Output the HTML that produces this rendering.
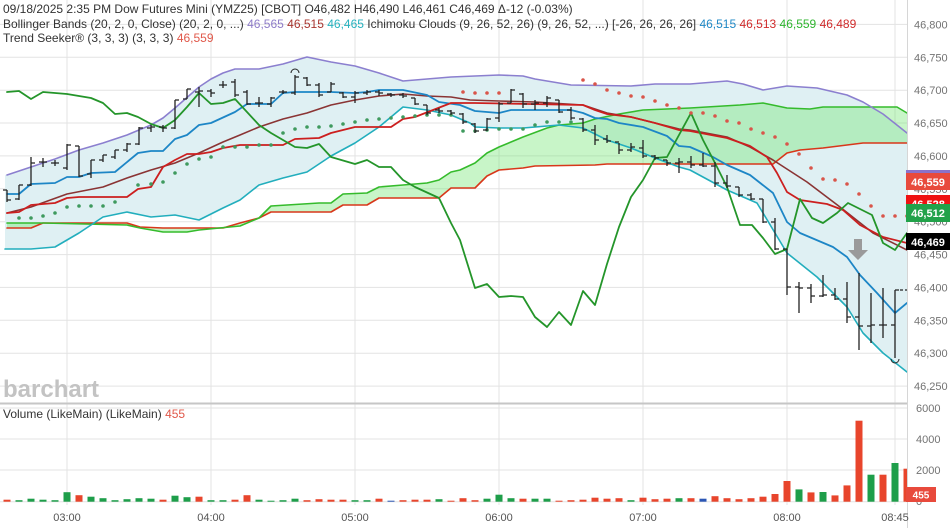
<!DOCTYPE html>
<html><head><meta charset="utf-8"><style>
html,body{margin:0;padding:0;background:#fff;}
body{width:950px;height:528px;overflow:hidden;position:relative;font-family:"Liberation Sans",sans-serif;}
svg{position:absolute;left:0;top:0;}
.t{font-family:"Liberation Sans",sans-serif;white-space:pre;}
</style></head><body>
<svg width="950" height="528" viewBox="0 0 950 528" xmlns="http://www.w3.org/2000/svg">
<defs><clipPath id="pc"><rect x="0" y="0" width="907" height="403"/></clipPath>
<clipPath id="vc"><rect x="0" y="404" width="907" height="100"/></clipPath></defs>
<!-- grid -->
<g stroke="#e3e3e3" stroke-width="1">
<path d="M0 24.4H907M0 57.3H907M0 90.2H907M0 123H907M0 155.9H907M0 188.8H907M0 221.7H907M0 254.6H907M0 287.4H907M0 320.3H907M0 353.2H907M0 386.1H907"/>
<path d="M0 408H907M0 439H907M0 470H907M0 501.7H907"/>
<path d="M67 0V505M211 0V505M355 0V505M499 0V505M643 0V505M787 0V505M895 0V505"/>
</g>
<g clip-path="url(#pc)">
<!-- BB fill -->
<polygon fill="#dff0f3" points="5,175 31,167 55,159 79,150 103,143 127,135 151,125 163,118 175,108 199,87 211,79 223,73 235,69 259,69 283,64 307,57 331,62 355,66 379,73 403,81 427,79 451,77 475,76 499,75 523,76 535,79 571,85 631,86 655,84 690,84 727,81 743,84 763,90 787,86 817,88 847,95 863,102 883,114 907,133 907,372 883,353 863,333 847,307 817,277 787,253 757,203 727,190 690,170 679,167 655,158 631,148 607,140 583,128 559,125 523,128 499,128 475,127 470,123 451,115 427,110 403,107 379,127 355,143 331,156 307,172 283,178 259,185 240,200 223,208 199,220 175,215 151,217 127,212 103,217 79,233 55,247 31,249 5,249"/>
<!-- cloud fill -->
<polygon fill="rgba(110,230,110,0.38)" points="7,223 31,223 43,223 127,225 140,228 163,232 187,232 199,230 240,226 259,218 271,206 319,203 331,203 343,194 367,193 379,187 403,185 427,183 439,180 451,172 460,170 475,163 487,153 499,147 523,137 547,128 559,125 583,123 595,119 619,114 643,110 667,109 690,108 740,105 763,103 787,108 810,109 823,107 897,107 907,113 907,143 863,143 847,145 823,148 800,150 787,153 773,164 607,164 595,165 535,166 523,168 499,170 487,176 475,188 460,188 451,188 439,198 379,198 367,205 343,205 331,212 271,212 259,218 240,223 223,228 163,228 140,227 127,223 43,223 31,228 7,228"/>
<g fill="none" stroke-linejoin="round" stroke-linecap="round">
<!-- span B -->
<polyline stroke="#d8371a" stroke-width="1.6" points="7,228 31,228 43,223 127,223 140,227 163,228 223,228 240,223 259,218 271,212 331,212 343,205 367,205 379,198 439,198 451,188 460,188 475,188 487,176 499,170 523,168 535,166 595,165 607,164 773,164 787,153 800,150 823,148 847,145 863,143 907,143"/>
<!-- span A -->
<polyline stroke="#35bb2c" stroke-width="1.6" points="7,223 31,223 43,223 127,225 140,228 163,232 187,232 199,230 240,226 259,218 271,206 319,203 331,203 343,194 367,193 379,187 403,185 427,183 439,180 451,172 460,170 475,163 487,153 499,147 523,137 547,128 559,125 583,123 595,119 619,114 643,110 667,109 690,108 740,105 763,103 787,108 810,109 823,107 897,107 907,113"/>
<!-- BB upper -->
<polyline stroke="#8b7fcf" stroke-width="1.6" points="7,175 31,167 55,159 79,150 103,143 127,135 151,125 163,118 175,108 199,87 211,79 223,73 235,69 259,69 283,64 307,57 331,62 355,66 379,73 403,81 427,79 451,77 475,76 499,75 523,76 535,79 571,85 631,86 655,84 690,84 727,81 743,84 763,90 787,86 817,88 847,95 863,102 883,114 907,133"/>
<!-- BB lower -->
<polyline stroke="#22aebd" stroke-width="1.6" points="5,249 31,249 55,247 79,233 103,217 127,212 151,217 175,215 199,220 223,208 240,200 259,185 283,178 307,172 331,156 355,143 379,127 403,107 427,110 451,115 470,123 475,127 499,128 523,128 559,125 583,128 607,140 631,148 655,158 679,167 690,170 727,190 757,203 787,253 817,277 847,307 863,333 883,353 907,372"/>
<!-- BB middle -->
<polyline stroke="#8a3434" stroke-width="1.6" points="7,213 31,207 67,194 103,187 127,178 151,170 175,163 199,153 223,142 240,135 259,127 283,119 307,113 331,105 355,100 379,96 403,94 427,96 451,97 470,100 499,101 535,102 583,105 607,113 631,117 655,123 679,129 690,130 727,137 750,147 773,160 807,182 840,207 873,233 907,250"/>
<!-- conversion -->
<polyline stroke="#1d86c6" stroke-width="1.8" points="7,194 19,194 31,184 55,183 67,177 79,177 91,173 115,172 138,153 151,151 163,151 175,139 187,135 199,125 211,123 235,112 247,104 271,104 283,93 295,92 331,92 355,93 367,92 379,90 403,90 427,95 439,102 460,105 475,111 499,113 511,110 571,110 583,113 595,118 607,119 619,123 643,127 667,136 679,146 690,147 713,157 727,165 750,175 773,193 787,222 800,233 833,247 847,257 860,275 877,293 895,313 907,303"/>
<!-- base -->
<polyline stroke="#cc1f1f" stroke-width="1.8" points="7,213 19,212 31,205 55,203 67,198 79,197 127,197 138,189 151,187 163,167 175,160 187,154 199,154 211,152 223,148 240,145 283,145 295,139 319,138 331,133 355,127 391,127 403,119 415,117 451,103 475,103 583,105 595,110 607,114 631,117 655,123 679,130 690,131 727,138 750,146 767,157 777,173 787,192 800,200 827,204 843,210 860,225 883,237 907,243"/>
<!-- lagging -->
<polyline stroke="#24952a" stroke-width="1.8" points="7,92 19,91 31,99 43,92 55,93 67,94 91,98 103,103 115,114 127,113 138,117 151,124 163,128 175,120 187,107 199,93 211,104 223,103 235,99 259,125 271,133 295,147 307,148 319,144 331,157 355,164 367,160 379,167 391,167 403,180 415,187 439,198 451,223 460,240 475,288 487,284 499,297 511,296 523,297 535,317 547,327 559,312 571,325 583,291 595,305 607,264 619,227 631,197 643,180 655,158 667,157 679,135 691,113 703,140 715,163 727,187 740,225 752,225 763,238 775,254 787,249 800,199 812,218 823,223 837,213 848,203 872,215 883,243 895,250 907,233"/>
</g>
<!-- trend seeker dots -->
<g fill="#3f9a5e">
<circle cx="19" cy="218" r="1.8"/><circle cx="31" cy="218" r="1.8"/><circle cx="43" cy="216" r="1.8"/><circle cx="55" cy="213" r="1.8"/><circle cx="67" cy="207" r="1.8"/><circle cx="79" cy="206" r="1.8"/><circle cx="91" cy="206" r="1.8"/><circle cx="103" cy="206" r="1.8"/><circle cx="115" cy="202" r="1.8"/><circle cx="138" cy="185" r="1.8"/><circle cx="151" cy="184" r="1.8"/><circle cx="163" cy="182" r="1.8"/><circle cx="175" cy="173" r="1.8"/><circle cx="187" cy="164" r="1.8"/><circle cx="199" cy="159" r="1.8"/><circle cx="211" cy="157" r="1.8"/><circle cx="223" cy="147" r="1.8"/><circle cx="235" cy="147" r="1.8"/><circle cx="247" cy="147" r="1.8"/><circle cx="259" cy="145" r="1.8"/><circle cx="271" cy="145" r="1.8"/><circle cx="283" cy="133" r="1.8"/><circle cx="295" cy="129" r="1.8"/><circle cx="307" cy="127" r="1.8"/><circle cx="319" cy="127" r="1.8"/><circle cx="331" cy="126" r="1.8"/><circle cx="343" cy="124" r="1.8"/><circle cx="355" cy="122" r="1.8"/><circle cx="367" cy="120" r="1.8"/><circle cx="379" cy="119" r="1.8"/><circle cx="391" cy="118" r="1.8"/><circle cx="403" cy="117" r="1.8"/><circle cx="415" cy="116" r="1.8"/><circle cx="427" cy="115" r="1.8"/><circle cx="439" cy="115" r="1.8"/><circle cx="451" cy="115" r="1.8"/><circle cx="463" cy="131" r="1.8"/><circle cx="475" cy="131" r="1.8"/><circle cx="487" cy="130" r="1.8"/><circle cx="499" cy="129" r="1.8"/><circle cx="511" cy="129" r="1.8"/><circle cx="523" cy="129" r="1.8"/><circle cx="535" cy="125" r="1.8"/><circle cx="547" cy="122" r="1.8"/><circle cx="559" cy="122" r="1.8"/><circle cx="571" cy="122" r="1.8"/>
</g>
<g fill="#d9554a">
<circle cx="463" cy="92" r="1.8"/><circle cx="475" cy="93" r="1.8"/><circle cx="487" cy="93" r="1.8"/><circle cx="499" cy="93" r="1.8"/><circle cx="583" cy="80" r="1.8"/><circle cx="595" cy="84" r="1.8"/><circle cx="607" cy="90" r="1.8"/><circle cx="619" cy="93" r="1.8"/><circle cx="631" cy="96" r="1.8"/><circle cx="643" cy="97" r="1.8"/><circle cx="655" cy="101" r="1.8"/><circle cx="667" cy="105" r="1.8"/><circle cx="679" cy="108" r="1.8"/><circle cx="691" cy="113" r="1.8"/><circle cx="703" cy="113" r="1.8"/><circle cx="715" cy="116" r="1.8"/><circle cx="727" cy="121" r="1.8"/><circle cx="739" cy="123" r="1.8"/><circle cx="751" cy="129" r="1.8"/><circle cx="763" cy="133" r="1.8"/><circle cx="775" cy="137" r="1.8"/><circle cx="787" cy="144" r="1.8"/><circle cx="799" cy="154" r="1.8"/><circle cx="811" cy="168" r="1.8"/><circle cx="823" cy="179" r="1.8"/><circle cx="835" cy="180" r="1.8"/><circle cx="847" cy="184" r="1.8"/><circle cx="859" cy="194" r="1.8"/><circle cx="871" cy="206" r="1.8"/><circle cx="883" cy="216" r="1.8"/><circle cx="895" cy="216" r="1.8"/><circle cx="907" cy="216" r="1.8"/>
</g>
<!-- OHLC bars -->
<path fill="none" stroke="#222" stroke-width="1.3" d="M7 190V202M3 190H7M7 200H11M19 185V200M15 199H19M19 185H23M31 157V186M27 185H31M31 163H35M43 158V167M39 162H43M43 162H47M55 160V166M51 163H55M55 163H59M67 144V170M63 168H67M67 145H71M79 146V177M75 146H79M79 176H83M91 160V178M87 174H91M91 160H95M103 155V162M99 160H103M103 155H107M115 150V159M111 157H115M115 150H119M127 143V152M123 150H127M127 144H131M139 127V145M135 144H139M139 128H143M151 125V132M147 128H151M151 127H155M163 125V132M159 127H163M163 128H167M175 100V129M171 128H175M175 100H179M187 89V99M183 99H187M187 89H191M199 87V107M195 92H199M199 91H203M211 89V97M207 91H211M211 93H215M223 81V88M219 85H223M223 85H227M235 79V97M231 82H235M235 95H239M247 90V105M243 92H247M247 104H251M259 97V107M255 103H259M259 103H263M271 97V107M267 104H271M271 98H275M283 90V94M279 92H283M283 92H287M295 75V95M291 93H295M295 77H299M307 77V86M303 78H307M307 85H311M319 83V97M315 85H319M319 95H323M331 82V92M327 92H331M331 84H335M343 92V98M339 93H343M343 97H347M355 91V103M351 97H355M355 93H359M367 90V95M363 93H367M367 92H371M379 90V96M375 92H379M379 93H383M391 93V97M387 94H391M391 95H395M403 93V98M399 95H403M403 96H407M415 98V105M411 98H415M415 104H419M427 105V115M423 105H427M427 113H431M439 108V113M435 110H439M439 111H443M451 110V115M447 111H451M451 113H455M463 113V124M459 114H463M463 122H467M475 123V133M471 124H475M475 131H479M487 118V131M483 130H487M487 119H491M499 102V122M495 118H499M499 104H503M511 89V103M507 103H511M511 90H515M523 93V108M519 94H523M523 104H527M535 100V110M531 104H535M535 103H539M547 96V107M543 103H547M547 98H551M559 100V113M555 100H559M559 112H563M571 107V120M567 110H571M571 118H575M583 118V132M579 119H583M583 130H587M595 125V145M591 130H595M595 140H599M607 135V143M603 139H607M607 141H611M619 143V154M615 142H619M619 150H623M631 143V152M627 150H631M631 147H635M643 140V158M639 148H643M643 156H647M655 155V160M651 156H655M655 158H659M667 160V166M663 160H667M667 163H671M679 158V173M675 163H679M679 162H683M691 156V168M687 162H691M691 165H695M703 153V167M699 165H703M703 166H707M715 162V187M711 166H715M715 183H719M727 175V188M723 183H727M727 186H731M739 187V197M735 187H739M739 195H743M751 193V200M747 195H751M751 199H755M763 199V223M759 199H763M763 222H767M775 218V250M771 222H775M775 249H779M787 249V295M783 249H787M787 287H791M799 282V313M795 287H799M799 288H803M811 284V303M807 288H811M811 296H815M823 275V297M819 296H823M823 295H827M835 288V300M831 295H835M835 299H839M847 282V323M843 299H847M847 317H851M859 273V350M855 317H859M859 326H863M871 293V343M867 326H871M871 325H875M883 288V338M879 325H883M883 325H887M895 290V358M891 325H895M895 290H899"/>
<path fill="none" stroke="#222" stroke-width="1.2" stroke-dasharray="3,2" d="M900 290H907"/>
<path fill="none" stroke="#222" stroke-width="1" d="M291 73A4 4 0 0 1 299 73M891 359A4 4 0 0 0 899 359"/>
<!-- arrow -->
<path fill="#9a9a9a" d="M854 239H862V250H868L858 260L848 250H854Z"/>
<text class="t" x="3" y="397" font-size="24" font-weight="bold" fill="#c3c3c3">barchart</text>
</g>
<!-- separator & border -->
<rect x="0" y="402.5" width="907" height="2" fill="#c6c6c6"/>
<path d="M907.5 0V528" stroke="#d6d6d6" stroke-width="1"/>
<!-- volume -->
<g clip-path="url(#vc)">
<g fill="#e8452c">
<rect x="3.5" y="499.7" width="7" height="2"/><rect x="75.5" y="495.2" width="7" height="6.5"/><rect x="159.5" y="499.7" width="7" height="2"/><rect x="195.5" y="496.7" width="7" height="5"/><rect x="231.5" y="499.7" width="7" height="2"/><rect x="243.5" y="495.2" width="7" height="6.5"/><rect x="303.5" y="500.2" width="7" height="1.5"/><rect x="315.5" y="499.2" width="7" height="2.5"/><rect x="327.5" y="499.7" width="7" height="2"/><rect x="339.5" y="499.7" width="7" height="2"/><rect x="375.5" y="498.7" width="7" height="3"/><rect x="399.5" y="500.2" width="7" height="1.5"/><rect x="411.5" y="499.7" width="7" height="2"/><rect x="423.5" y="499.7" width="7" height="2"/><rect x="447.5" y="500.7" width="7" height="1"/><rect x="459.5" y="498.2" width="7" height="3.5"/><rect x="471.5" y="500.2" width="7" height="1.5"/><rect x="519.5" y="498.7" width="7" height="3"/><rect x="555.5" y="500.7" width="7" height="1"/><rect x="567.5" y="500.2" width="7" height="1.5"/><rect x="579.5" y="499.7" width="7" height="2"/><rect x="591.5" y="497.7" width="7" height="4"/><rect x="603.5" y="498.7" width="7" height="3"/><rect x="615.5" y="498.2" width="7" height="3.5"/><rect x="639.5" y="497.7" width="7" height="4"/><rect x="651.5" y="499.2" width="7" height="2.5"/><rect x="663.5" y="498.7" width="7" height="3"/><rect x="687.5" y="498.2" width="7" height="3.5"/><rect x="711.5" y="496.2" width="7" height="5.5"/><rect x="723.5" y="498.2" width="7" height="3.5"/><rect x="735.5" y="499.2" width="7" height="2.5"/><rect x="747.5" y="498.2" width="7" height="3.5"/><rect x="759.5" y="496.7" width="7" height="5"/><rect x="771.5" y="494" width="7" height="7.7"/><rect x="783.5" y="481" width="7" height="20.7"/><rect x="807.5" y="492.4" width="7" height="9.3"/><rect x="831.5" y="495.4" width="7" height="6.3"/><rect x="843.5" y="485.4" width="7" height="16.3"/><rect x="855.5" y="420.7" width="7" height="81"/><rect x="879.5" y="474.7" width="7" height="27"/><rect x="903.5" y="468.7" width="7" height="33"/>
</g>
<g fill="#1e9e4a">
<rect x="15.5" y="500.2" width="7" height="1.5"/><rect x="27.5" y="498.7" width="7" height="3"/><rect x="39.5" y="499.7" width="7" height="2"/><rect x="51.5" y="500.2" width="7" height="1.5"/><rect x="63.5" y="492.2" width="7" height="9.5"/><rect x="87.5" y="496.7" width="7" height="5"/><rect x="99.5" y="498.2" width="7" height="3.5"/><rect x="111.5" y="500.2" width="7" height="1.5"/><rect x="123.5" y="499.2" width="7" height="2.5"/><rect x="135.5" y="498.2" width="7" height="3.5"/><rect x="147.5" y="498.7" width="7" height="3"/><rect x="171.5" y="495.7" width="7" height="6"/><rect x="183.5" y="497.2" width="7" height="4.5"/><rect x="207.5" y="500.2" width="7" height="1.5"/><rect x="219.5" y="500.2" width="7" height="1.5"/><rect x="255.5" y="499.7" width="7" height="2"/><rect x="267.5" y="500.7" width="7" height="1"/><rect x="279.5" y="500.2" width="7" height="1.5"/><rect x="291.5" y="498.7" width="7" height="3"/><rect x="351.5" y="500.2" width="7" height="1.5"/><rect x="363.5" y="500.2" width="7" height="1.5"/><rect x="435.5" y="499.2" width="7" height="2.5"/><rect x="483.5" y="498.7" width="7" height="3"/><rect x="495.5" y="494.7" width="7" height="7"/><rect x="507.5" y="498.2" width="7" height="3.5"/><rect x="531.5" y="498.7" width="7" height="3"/><rect x="543.5" y="498.7" width="7" height="3"/><rect x="627.5" y="500.2" width="7" height="1.5"/><rect x="675.5" y="498.2" width="7" height="3.5"/><rect x="795.5" y="489.4" width="7" height="12.3"/><rect x="819.5" y="492" width="7" height="9.7"/><rect x="867.5" y="474.7" width="7" height="27"/><rect x="891.5" y="463" width="7" height="38.7"/>
</g>
<g fill="#2b56b5"><rect x="387.5" y="500.7" width="7" height="1"/><rect x="699.5" y="498.7" width="7" height="3"/></g>
</g>
<!-- legend -->
<g class="t" font-size="12" fill="#333">
<text x="3" y="13">09/18/2025  2:35 PM Dow Futures Mini (YMZ25) [CBOT] O46,482 H46,490 L46,461 C46,469 Δ-12 (-0.03%)</text>
<text x="3" y="28">Bollinger Bands (20, 2, 0, Close)  (20, 2, 0, ...) <tspan fill="#8e7cc8">46,565</tspan> <tspan fill="#a8352f">46,515</tspan> <tspan fill="#27b2bf">46,465</tspan> Ichimoku Clouds (9, 26, 52, 26)  (9, 26, 52, ...) [-26, 26, 26, 26] <tspan fill="#1f88c6">46,515</tspan> <tspan fill="#d02b2b">46,513</tspan>  <tspan fill="#2fb52f">46,559</tspan> <tspan fill="#d02b2b">46,489</tspan></text>
<text x="3" y="42">Trend Seeker® (3, 3, 3)  (3, 3, 3)  <tspan fill="#e0584a">46,559</tspan></text>
<text x="3" y="418">Volume (LikeMain)  (LikeMain) <tspan fill="#e0584a">455</tspan></text>
</g>
<!-- price axis -->
<g class="t" font-size="11" fill="#737373">
<text x="914" y="28.4">46,800</text><text x="914" y="61.3">46,750</text><text x="914" y="94.2">46,700</text><text x="914" y="127">46,650</text><text x="914" y="159.9">46,600</text><text x="914" y="192.8">46,550</text><text x="914" y="225.7">46,500</text><text x="914" y="258.6">46,450</text><text x="914" y="291.4">46,400</text><text x="914" y="324.3">46,350</text><text x="914" y="357.2">46,300</text><text x="914" y="390.1">46,250</text>
<text x="916" y="412">6000</text><text x="916" y="443">4000</text><text x="916" y="474">2000</text><text x="916" y="505">0</text>
</g>
<!-- badges -->
<rect x="906" y="170" width="44" height="17" fill="#8b72c9"/>
<rect x="906" y="173" width="44" height="17" fill="#e84a3c"/>
<rect x="906" y="195" width="44" height="17" fill="#ef1212"/>
<text class="t" x="928" y="208" font-size="11" font-weight="bold" fill="#fff" text-anchor="middle">46,528</text>
<rect x="906" y="204" width="44" height="18" fill="#22a24a"/>
<rect x="906" y="233" width="44" height="17" fill="#000"/>
<g class="t" font-size="11" font-weight="bold" fill="#fff" text-anchor="middle">
<text x="928" y="186">46,559</text><text x="928" y="217">46,512</text><text x="928" y="246">46,469</text>
</g>
<rect x="906" y="487" width="30" height="15" fill="#e84a3c"/>
<text class="t" x="921" y="498.5" font-size="10" font-weight="bold" fill="#fff" text-anchor="middle">455</text>
<!-- time axis -->
<g class="t" font-size="11" fill="#555" text-anchor="middle">
<text x="67" y="521">03:00</text><text x="211" y="521">04:00</text><text x="355" y="521">05:00</text><text x="499" y="521">06:00</text><text x="643" y="521">07:00</text><text x="787" y="521">08:00</text><text x="895" y="521">08:45</text>
</g>
</svg>
</body></html>
